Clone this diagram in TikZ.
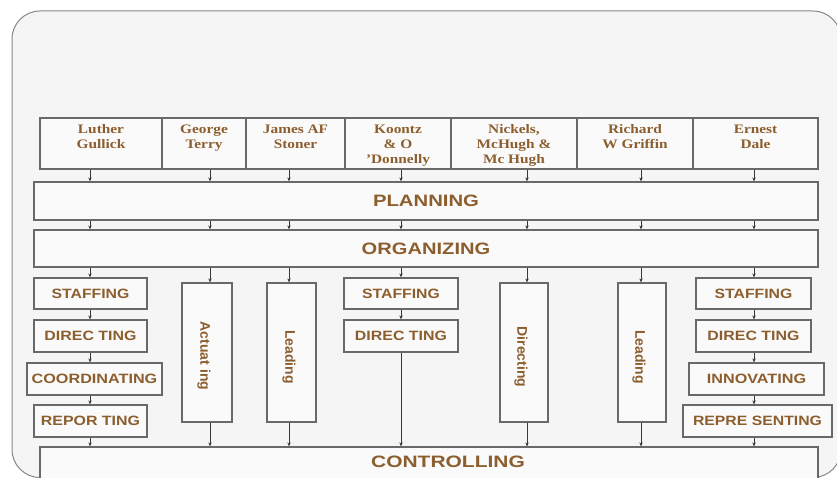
\documentclass[tikz,border=0pt]{standalone}
\usepackage{fontspec}
\usepackage{graphicx}
\setmainfont{Liberation Serif}
\newfontfamily\labfont{Liberation Sans}
\usetikzlibrary{arrows.meta}
\definecolor{labbrown}{RGB}{140,94,46}
\definecolor{edgegray}{RGB}{105,105,105}
\definecolor{framegray}{RGB}{135,135,135}
\definecolor{panel}{RGB}{245,245,245}
% horizontal stretch for the wide lettering
\newcommand\hstr[2]{\scalebox{#1}[1]{#2}}
\newcommand\twoline[2]{\begin{tabular}{@{}c@{}}#1\\#2\end{tabular}}
\newcommand\threeline[3]{\begin{tabular}{@{}c@{}}#1\\#2\\#3\end{tabular}}

\begin{document}
\begin{tikzpicture}[x=1pt,y=-1pt,
  box/.style={draw=edgegray,line width=1.2pt,fill=white!55!panel,inner sep=0pt,
    minimum width=113pt,minimum height=31pt},
  cell/.style={draw=edgegray,line width=1.2pt,fill=white!55!panel,inner sep=0pt,
    minimum height=51pt},
  bigtxt/.style={text=labbrown,font=\labfont\bfseries\fontsize{16.5}{19}\selectfont},
  smalltxt/.style={text=labbrown,font=\labfont\bfseries\fontsize{13.5}{16}\selectfont},
  headtxt/.style={text=labbrown,font=\bfseries\fontsize{13}{15}\selectfont,
    anchor=north,inner sep=0pt},
  vtxt/.style={text=labbrown,font=\labfont\bfseries\fontsize{14}{17}\selectfont,
    rotate=-90,inner sep=0pt},
  arr/.style={draw=black!78,line width=0.8pt,-{Stealth[length=4pt,width=3.4pt]}},
]
\useasboundingbox (0,0) rectangle (837,478);
\clip (0,0) rectangle (837,478);
\fill[white] (0,0) rectangle (837,478);

% outer rounded panel
\draw[draw=framegray,line width=1pt,fill=panel,rounded corners=28pt]
  (12,11) rectangle (841,477.5);

% column lines
\coordinate (c1) at (90,0);
\coordinate (c2) at (210,0);
\coordinate (c3) at (289,0);
\coordinate (c4) at (401,0);
\coordinate (c5) at (527,0);
\coordinate (c6) at (641,0);
\coordinate (c7) at (754,0);

% header row of authors
\node[cell,minimum width=122pt] (h1) at (101,143.5) {};
\node[cell,minimum width=84pt]  (h2) at (204,143.5) {};
\node[cell,minimum width=99pt]  (h3) at (295.5,143.5) {};
\node[cell,minimum width=106pt] (h4) at (398,143.5) {};
\node[cell,minimum width=126pt] (h5) at (514,143.5) {};
\node[cell,minimum width=116pt] (h6) at (635,143.5) {};
\node[cell,minimum width=125pt] (h7) at (755.5,143.5) {};

\node[headtxt] (t1) at (101,122.5) {\hstr{1.18}{\twoline{Luther}{Gullick}}};
\node[headtxt] (t2) at (204,122.5) {\hstr{1.18}{\twoline{George}{Terry}}};
\node[headtxt] (t3) at (295.5,122.5) {\hstr{1.18}{\twoline{James AF}{Stoner}}};
\node[headtxt] (t4) at (398,122.5) {\hstr{1.18}{\threeline{Koontz}{\& O}{’Donnelly}}};
\node[headtxt] (t5) at (514,122.5) {\hstr{1.18}{\threeline{Nickels,}{McHugh \&}{Mc Hugh}}};
\node[headtxt] (t6) at (635,122.5) {\hstr{1.18}{\twoline{Richard}{W Griffin}}};
\node[headtxt] (t7) at (755.5,122.5) {\hstr{1.18}{\twoline{Ernest}{Dale}}};

% main bands
\node[box,bigtxt,minimum width=784pt,minimum height=38pt] (plan) at (426,201)
  {\hstr{1.23}{PLANNING}};
\node[box,bigtxt,minimum width=784pt,minimum height=37pt] (org) at (426,248.5)
  {\hstr{1.22}{ORGANIZING}};
\node[box,minimum width=778pt,minimum height=62pt] (ctl) at (429,478) {};
\node[bigtxt] (ctltxt) at (448,462) {\hstr{1.27}{CONTROLLING}};

% column 1
\node[box,smalltxt] (stf1) at (90.5,293.5) {\hstr{1.17}{STAFFING}};
\node[box,smalltxt,minimum height=32pt] (dir1) at (90.5,336) {\hstr{1.18}{DIREC TING}};
\node[box,smalltxt,minimum width=135pt,minimum height=32pt] (coo1) at (94.5,379) {\hstr{1.2}{COORDINATING}};
\node[box,smalltxt,minimum height=32pt] (rep1) at (90.5,421) {\hstr{1.18}{REPOR TING}};

% tall boxes
\node[box,minimum width=50pt,minimum height=139pt] (act) at (207,352.5) {};
\node[vtxt] (acttxt) at (204,356) {Actuat ing};
\node[box,minimum width=49pt,minimum height=139pt] (lea1) at (291.5,352.5) {};
\node[vtxt] (lea1txt) at (289,357) {Leading};

% column 4
\node[box,smalltxt,minimum width=114pt] (stf2) at (401,293.5) {\hstr{1.17}{STAFFING}};
\node[box,smalltxt,minimum width=114pt,minimum height=32pt] (dir2) at (401,336) {\hstr{1.18}{DIREC TING}};

% tall boxes on the right
\node[box,minimum width=48pt,minimum height=139pt] (dirv) at (524,352.5) {};
\node[vtxt] (dirvtxt) at (521,357) {Directing};
\node[box,minimum width=48pt,minimum height=139pt] (lea2) at (642,352.5) {};
\node[vtxt] (lea2txt) at (639,357) {Leading};

% column 7
\node[box,smalltxt,minimum width=115pt] (stf3) at (753.5,293.5) {\hstr{1.17}{STAFFING}};
\node[box,smalltxt,minimum width=115pt,minimum height=32pt] (dir3) at (753.5,336) {\hstr{1.18}{DIREC TING}};
\node[box,smalltxt,minimum width=135pt,minimum height=32pt] (inn3) at (756.5,379) {\hstr{1.2}{INNOVATING}};
\node[box,smalltxt,minimum width=149pt,minimum height=32pt] (rpr3) at (757.5,421) {\hstr{1.17}{REPRE SENTING}};

% authors -> planning -> organizing
\foreach \c/\h in {c1/h1,c2/h2,c3/h3,c4/h4,c5/h5,c6/h6,c7/h7}{
  \draw[arr] (\h.south -| \c) -- (plan.north -| \c);
  \draw[arr] (plan.south -| \c) -- (org.north -| \c);
}

% organizing -> functions -> controlling
\draw[arr] (org.south -| c1) -- (stf1.north -| c1);
\draw[arr] (stf1.south -| c1) -- (dir1.north -| c1);
\draw[arr] (dir1.south -| c1) -- (coo1.north -| c1);
\draw[arr] (coo1.south -| c1) -- (rep1.north -| c1);
\draw[arr] (rep1.south -| c1) -- (ctl.north -| c1);

\draw[arr] (org.south -| c2) -- (act.north -| c2);
\draw[arr] (act.south -| c2) -- (ctl.north -| c2);
\draw[arr] (org.south -| c3) -- (lea1.north -| c3);
\draw[arr] (lea1.south -| c3) -- (ctl.north -| c3);

\draw[arr] (org.south -| c4) -- (stf2.north -| c4);
\draw[arr] (stf2.south -| c4) -- (dir2.north -| c4);
\draw[arr] (dir2.south -| c4) -- (ctl.north -| c4);

\draw[arr] (org.south -| c5) -- (dirv.north -| c5);
\draw[arr] (dirv.south -| c5) -- (ctl.north -| c5);
\draw[arr] (org.south -| c6) -- (lea2.north -| c6);
\draw[arr] (lea2.south -| c6) -- (ctl.north -| c6);

\draw[arr] (org.south -| c7) -- (stf3.north -| c7);
\draw[arr] (stf3.south -| c7) -- (dir3.north -| c7);
\draw[arr] (dir3.south -| c7) -- (inn3.north -| c7);
\draw[arr] (inn3.south -| c7) -- (rpr3.north -| c7);
\draw[arr] (rpr3.south -| c7) -- (ctl.north -| c7);
\end{tikzpicture}
\end{document}
